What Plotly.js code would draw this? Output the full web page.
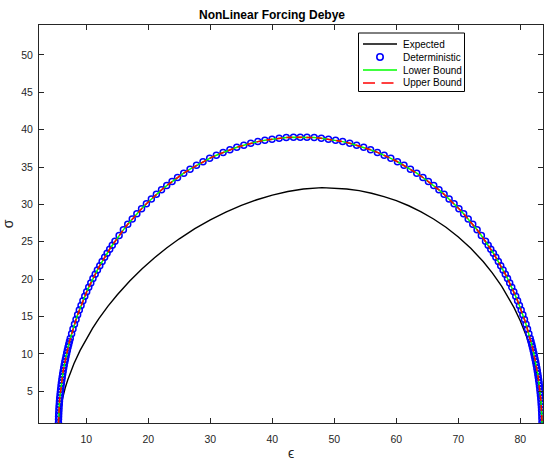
<!DOCTYPE html>
<html><head><meta charset="utf-8">
<script src="https://cdn.plot.ly/plotly-3.0.1.min.js"></script>
<style>html,body{margin:0;padding:0;background:#fff}#chart{width:544px;height:461px}</style>
</head><body><div id="chart"></div>
<script>
const chartTitle = 'NonLinear Forcing Debye';
const seriesNames = ['Expected', 'Deterministic', 'Lower Bound', 'Upper Bound'];
const xTickVals = [10, 20, 30, 40, 50, 60, 70, 80];
const yTickVals = [5, 10, 15, 20, 25, 30, 35, 40, 45, 50];

// Expected (black line)
const expX = [5.5, 5.6, 5.8, 6.0, 6.3, 6.6, 7.0, 7.5, 8.0, 9.0, 10, 11, 12, 13.5, 15, 17, 19, 21, 23, 25, 27.5, 30, 32.5, 35, 37.5, 40, 42.5, 45, 48, 50, 52, 54, 56, 58, 60, 62, 64, 66, 68, 70, 72, 74, 75.5, 77, 78, 79, 80, 81, 81.8, 82.4, 82.9, 83.2, 83.4, 83.5];
const expY = [0.0, 1.40, 2.62, 3.50, 4.57, 5.47, 6.52, 7.66, 8.69, 10.47, 12.02, 13.41, 14.68, 16.39, 17.92, 19.76, 21.40, 22.87, 24.20, 25.40, 26.75, 27.93, 28.97, 29.86, 30.62, 31.25, 31.73, 32.07, 32.25, 32.21, 32.07, 31.84, 31.50, 31.05, 30.50, 29.82, 29.01, 28.05, 26.94, 25.64, 24.13, 22.36, 20.81, 19.04, 17.69, 16.16, 14.41, 12.32, 10.27, 8.34, 6.23, 4.45, 2.61, 0.0];

// Deterministic (blue circles)
const detX = [5.51,5.52,5.53,5.55,5.58,5.60,5.64,5.67,5.71,5.76,5.81,5.86,5.92,5.98,6.05,6.12,6.19,6.27,6.35,6.44,6.53,6.63,6.73,6.83,6.94,7.05,7.16,7.28,7.41,7.63,7.85,8.09,8.34,8.60,8.87,9.15,9.45,9.75,10.06,10.39,10.72,11.07,11.43,11.79,12.17,12.55,12.95,13.35,13.77,14.19,14.62,15.29,15.98,16.68,17.41,18.15,18.91,19.69,20.49,21.30,22.13,22.97,23.83,24.71,25.71,26.73,27.77,28.82,29.89,30.97,32.06,33.16,34.27,35.40,36.52,37.66,38.80,39.95,41.10,42.25,43.41,44.50,45.59,46.75,47.90,49.05,50.20,51.34,52.48,53.60,54.73,55.84,56.94,58.03,59.11,60.18,61.23,62.27,63.29,64.29,65.17,66.03,66.87,67.70,68.51,69.31,70.09,70.85,71.59,72.32,73.02,73.71,74.38,74.81,75.23,75.65,76.05,76.45,76.83,77.21,77.57,77.93,78.28,78.61,78.94,79.25,79.55,79.85,80.13,80.40,80.66,80.91,81.15,81.37,81.59,81.72,81.84,81.95,82.06,82.17,82.27,82.37,82.47,82.56,82.65,82.73,82.81,82.88,82.95,83.02,83.08,83.14,83.19,83.24,83.29,83.33,83.36,83.40,83.42,83.45,83.47,83.48,83.49];
const detY = [0.78,1.23,1.63,2.04,2.45,2.86,3.26,3.67,4.08,4.48,4.89,5.29,5.70,6.10,6.50,6.91,7.31,7.71,8.11,8.51,8.91,9.30,9.70,10.09,10.49,10.88,11.27,11.66,12.05,12.70,13.34,13.98,14.61,15.24,15.86,16.48,17.10,17.71,18.31,18.91,19.50,20.09,20.67,21.24,21.81,22.37,22.92,23.47,24.01,24.54,25.07,25.84,26.60,27.34,28.05,28.75,29.43,30.09,30.73,31.35,31.95,32.52,33.07,33.60,34.18,34.72,35.23,35.71,36.16,36.58,36.96,37.32,37.64,37.92,38.18,38.40,38.58,38.73,38.85,38.94,38.99,39.00,38.99,38.94,38.85,38.73,38.58,38.40,38.18,37.92,37.64,37.32,36.96,36.58,36.16,35.71,35.23,34.72,34.18,33.60,33.07,32.52,31.95,31.35,30.73,30.09,29.43,28.75,28.05,27.34,26.60,25.84,25.07,24.54,24.01,23.47,22.92,22.37,21.81,21.24,20.67,20.09,19.50,18.91,18.31,17.71,17.10,16.48,15.86,15.24,14.61,13.98,13.34,12.70,12.05,11.66,11.27,10.88,10.49,10.09,9.70,9.30,8.91,8.51,8.11,7.71,7.31,6.91,6.50,6.10,5.70,5.29,4.89,4.48,4.08,3.67,3.26,2.86,2.45,2.04,1.63,1.23,0.78];

// Bounds coincide with the deterministic curve in the picture
const lowerX = detX, lowerY = detY;
const upperX = detX, upperY = detY;

const FONT = 'Helvetica, Arial, "Liberation Sans", sans-serif';
const AX = '#262626';
const M = {l: 39, r: 1, t: 25, b: 38};
const W = 544 - M.l - M.r, H = 461 - M.t - M.b;
const px = v => (v - M.l) / W;          // pixel x -> paper
const py = v => (461 - M.b - v) / H;    // pixel y -> paper

const traces = [
  {x: expX, y: expY, name: seriesNames[0], mode: 'lines', line: {color: '#000000', width: 1.4}},
  {x: detX, y: detY, name: seriesNames[1], mode: 'markers',
   marker: {symbol: 'circle-open', size: 6, color: '#0000ff', line: {color: '#0000ff', width: 1.5}}},
  {x: lowerX, y: lowerY, name: seriesNames[2], mode: 'lines', line: {color: '#00ff00', width: 1.5}},
  {x: upperX, y: upperY, name: seriesNames[3], mode: 'lines', line: {color: '#ff0000', width: 1.5, dash: '6px,4px'}}
];

// legend drawn to MATLAB proportions
const legRows = [44, 57, 70, 83];
const shapes = [
  {type: 'rect', xref: 'paper', yref: 'paper', x0: px(358.5), x1: px(464.5), y0: py(91.5), y1: py(33),
   line: {color: '#000000', width: 1}, fillcolor: '#ffffff', layer: 'above'},
  {type: 'line', xref: 'paper', yref: 'paper', x0: px(363), x1: px(397), y0: py(legRows[0]), y1: py(legRows[0]),
   line: {color: '#000000', width: 1.5}, layer: 'above'},
  {type: 'circle', xref: 'paper', yref: 'paper', x0: px(376.8), x1: px(383.2), y0: py(legRows[1] + 3.2), y1: py(legRows[1] - 3.2),
   line: {color: '#0000ff', width: 1.6}, layer: 'above'},
  {type: 'line', xref: 'paper', yref: 'paper', x0: px(363), x1: px(397), y0: py(legRows[2]), y1: py(legRows[2]),
   line: {color: '#00ff00', width: 1.5}, layer: 'above'},
  {type: 'line', xref: 'paper', yref: 'paper', x0: px(363), x1: px(375), y0: py(legRows[3]), y1: py(legRows[3]),
   line: {color: '#ff0000', width: 1.5}, layer: 'above'},
  {type: 'line', xref: 'paper', yref: 'paper', x0: px(381.5), x1: px(393.5), y0: py(legRows[3]), y1: py(legRows[3]),
   line: {color: '#ff0000', width: 1.5}, layer: 'above'}
];
const annotations = seriesNames.map((n, i) => ({
  text: n, xref: 'paper', yref: 'paper', x: px(400.5), y: py(legRows[i]), xanchor: 'left', yanchor: 'middle',
  showarrow: false, font: {family: FONT, size: 10, color: '#000000'}
}));

const axisCommon = {
  showline: true, linecolor: AX, linewidth: 1, mirror: 'ticks', ticks: 'inside', ticklen: 5, tickwidth: 1,
  tickcolor: AX, showgrid: false, zeroline: false, tickfont: {family: FONT, size: 10.5, color: AX},
  tickmode: 'array', fixedrange: true
};

const layout = {
  width: 544, height: 461, margin: M, paper_bgcolor: '#ffffff', plot_bgcolor: '#ffffff',
  showlegend: false,
  title: {text: '<b>' + chartTitle + '</b>', x: px(291), xanchor: 'center', y: 1 - 15 / 461, yanchor: 'middle',
          font: {family: FONT, size: 12, color: '#000000'}},
  xaxis: Object.assign({}, axisCommon, {range: [2.37, 83.65], tickvals: xTickVals, ticklabelstandoff: 6,
          title: {text: 'ϵ', font: {family: FONT, size: 14, color: AX}, standoff: 4}}),
  yaxis: Object.assign({}, axisCommon, {range: [0.76, 54.0], tickvals: yTickVals, ticklabelstandoff: 3,
          title: {text: 'σ', font: {family: FONT, size: 14, color: AX}, standoff: 8}}),
  shapes: shapes, annotations: annotations
};

Plotly.newPlot('chart', traces, layout, {staticPlot: true, displayModeBar: false});
</script>
</body></html>
